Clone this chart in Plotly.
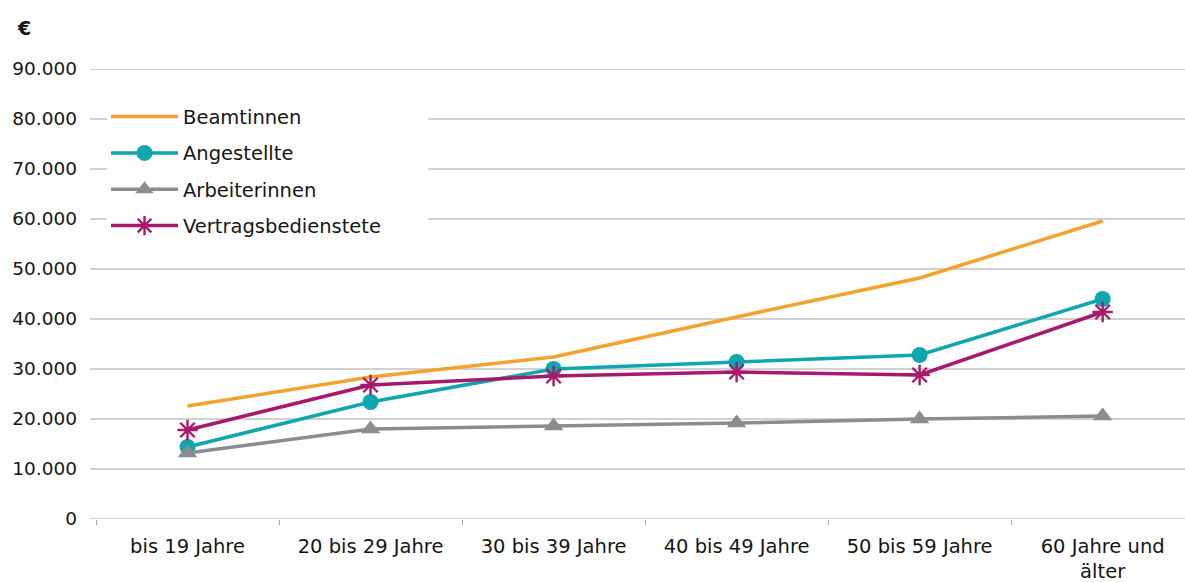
import plotly.graph_objects as go

categories = ["bis 19 Jahre", "20 bis 29 Jahre", "30 bis 39 Jahre",
              "40 bis 49 Jahre", "50 bis 59 Jahre", "60 Jahre und<br>älter"]

beamtinnen = [22600, 28400, 32400, 40400, 48200, 59600]
angestellte = [14400, 23400, 30000, 31400, 32800, 44000]
arbeiterinnen = [13200, 18000, 18600, 19200, 20000, 20600]
vertragsbedienstete = [17800, 26800, 28600, 29400, 28800, 41400]

y_ticks = [0, 10000, 20000, 30000, 40000, 50000, 60000, 70000, 80000, 90000]

ORANGE = "#F4A12D"
TEAL = "#0FA6B0"
GREY = "#8C8C8C"
MAGENTA = "#A6196B"
TEXT = "#151515"
GRID = "#C2C2C2"
FONT = "DejaVu Sans, Liberation Sans, Arial, sans-serif"

fig = go.Figure()
fig.add_trace(go.Scatter(
    x=categories, y=beamtinnen, name="Beamtinnen", mode="lines",
    legendgroup="a", line=dict(color=ORANGE, width=3.5)))
fig.add_trace(go.Scatter(
    x=categories, y=angestellte, name="Angestellte", mode="lines+markers",
    legendgroup="b", line=dict(color=TEAL, width=3.5),
    marker=dict(symbol="circle", size=16, color=TEAL)))
fig.add_trace(go.Scatter(
    x=categories, y=arbeiterinnen, name="Arbeiterinnen", mode="lines+markers",
    legendgroup="c", line=dict(color=GREY, width=3.5),
    marker=dict(symbol="triangle-up", size=17, color=GREY)))
fig.add_trace(go.Scatter(
    x=categories, y=vertragsbedienstete, name="Vertragsbedienstete",
    mode="lines+markers", legendgroup="d",
    line=dict(color=MAGENTA, width=3.5),
    marker=dict(symbol="asterisk-open", size=17,
                line=dict(color=MAGENTA, width=2.4))))

# horizontal gridlines, starting slightly left of the plot area
shapes = [dict(type="line", xref="x domain", yref="y",
               x0=-0.0055, x1=1, y0=v, y1=v,
               line=dict(color=GRID, width=1.5), layer="below")
          for v in y_ticks]
# white panel behind the legend, interrupting the gridlines
shapes.append(dict(
    type="rect", xref="x domain", yref="y domain",
    x0=0.0101, x1=0.305, y0=0.609, y1=0.942,
    fillcolor="white", line=dict(width=0), layer="below"))

fig.update_layout(
    width=1185, height=582,
    margin=dict(l=96, r=0, t=69, b=63, autoexpand=False),
    paper_bgcolor="white", plot_bgcolor="rgba(0,0,0,0)",
    separators=",.",
    font=dict(family=FONT, size=18.5, color=TEXT),
    showlegend=True,
    legend=dict(
        x=0.0092, y=0.937, xanchor="left", yanchor="top",
        bgcolor="rgba(255,255,255,0)", borderwidth=0,
        font=dict(family=FONT, size=19.5, color=TEXT),
        traceorder="grouped", tracegroupgap=8, itemwidth=67,
    ),
    xaxis=dict(
        type="category",
        range=[-0.5, 5.45],
        automargin=False,
        showgrid=False,
        showline=False,
        ticks="outside", ticklen=5, tickcolor="#AAAAAA",
        tickson="boundaries",
        ticklabelstandoff=13,
        tickfont=dict(family=FONT, size=19.5, color=TEXT),
        fixedrange=True,
    ),
    yaxis=dict(
        range=[0, 90000],
        automargin=False,
        tickvals=y_ticks,
        tickformat=",d",
        showgrid=False, zeroline=False, showline=False,
        ticks="", ticklabelstandoff=18,
        tickfont=dict(family=FONT, size=18.5, color=TEXT),
        fixedrange=True,
    ),
    shapes=shapes,
    annotations=[dict(
        text="<b>€</b>", xref="paper", yref="paper",
        x=-0.066, y=1.09, xanchor="center", yanchor="middle",
        showarrow=False, font=dict(family=FONT, size=19, color=TEXT))],
)

fig.write_html("out.html")
